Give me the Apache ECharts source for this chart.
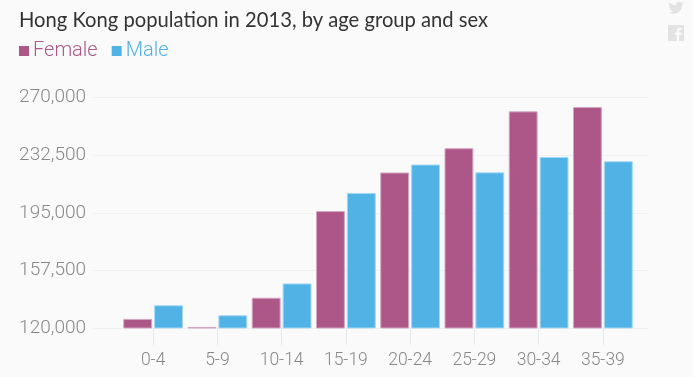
<!DOCTYPE html>
<html><head><meta charset="utf-8">
<style>html,body{margin:0;padding:0;background:#fafafa}#c{width:693px;height:377px}</style>
<script src="https://cdn.jsdelivr.net/npm/echarts@6/dist/echarts.min.js"></script>
</head><body><div id="c"></div>
<script>
const categories = ['0-4','5-9','10-14','15-19','20-24','25-29','30-34','35-39'];
const female = [125900,120700,139700,196100,221200,237000,261000,263800];
const male = [134800,128300,149000,207900,226400,221300,231300,228500];
const yTicks = [120000,157500,195000,232500,270000];
const FONT = 'Roboto';
echarts.graphic.registerShape('twitterIcon', echarts.graphic.extendPath('M23 4.6c-.8.4-1.7.6-2.6.7.9-.6 1.6-1.4 2-2.5-.9.5-1.9.9-2.9 1.1C18.7 3 17.5 2.4 16.2 2.4c-2.5 0-4.6 2-4.6 4.6 0 .4 0 .7.1 1C7.9 7.8 4.5 6 2.2 3.2c-.4.7-.6 1.5-.6 2.3 0 1.6.8 3 2 3.8-.8 0-1.5-.2-2.1-.6v.1c0 2.2 1.6 4.1 3.7 4.5-.4.1-.8.2-1.2.2-.3 0-.6 0-.9-.1.6 1.8 2.3 3.2 4.3 3.2-1.6 1.2-3.6 2-5.7 2-.4 0-.7 0-1.1-.1 2 1.3 4.5 2.1 7.1 2.1 8.5 0 13.1-7 13.1-13.1v-.6c.9-.7 1.7-1.5 2.3-2.3z',{}));
echarts.graphic.registerShape('facebookIcon', echarts.graphic.extendPath('M0 0H16V16H11.2V10H13.2L13.5 7.6H11.2V6.2C11.2 5.5 11.4 5 12.4 5H13.6V2.9C13.4 2.9 12.7 2.8 11.9 2.8 10.1 2.8 8.8 3.9 8.8 5.9V7.6H6.8V10H8.8V16H0Z',{}));
const chart = echarts.init(document.getElementById('c'), null, {renderer:'canvas'});
const yBase = {type:'value',min:120000,max:270000};
chart.setOption({
  animation:false,
  backgroundColor:'#fafafa',
  title:{text:'Hong Kong population in 2013, by age group and sex',left:19,top:10,padding:0,
    textStyle:{fontFamily:'Lato',fontSize:20.2,fontWeight:'normal',color:'#333'}},
  legend:{left:19,top:41,padding:0,itemWidth:10,itemHeight:10,itemGap:14,icon:'rect',
    itemStyle:{borderWidth:0},
    textStyle:{fontFamily:FONT,fontWeight:300,fontSize:20,padding:[0,0,0,-1]},
    data:[{name:'Female',textStyle:{color:'#ad5788'}},{name:'Male',textStyle:{color:'#51b2e5'}}]},
  grid:[
    {left:93,right:44,top:97.5,height:230.5},
    {left:121,right:58,top:97.5,height:230.5}
  ],
  xAxis:[
    {type:'category',gridIndex:0,data:categories,show:false},
    {type:'category',gridIndex:1,data:categories,
     axisLine:{show:false},
     axisTick:{show:true,alignWithLabel:true,length:17,lineStyle:{color:'#e9e9e9'}},
     axisLabel:{fontFamily:FONT,fontWeight:300,fontSize:17.5,color:'#888',margin:24,interval:0}}
  ],
  yAxis:[
    {...yBase,gridIndex:0,
     axisLine:{show:false},
     axisTick:{show:false,customValues:yTicks},
     axisLabel:{customValues:yTicks,fontFamily:FONT,fontWeight:300,fontSize:19,color:'#888',margin:7,padding:[2,0,0,0]},
     splitLine:{show:true,lineStyle:{color:'#f0f0f0',width:1}}},
    {...yBase,gridIndex:1,show:false,splitLine:{show:false}}
  ],
  series:[
    {name:'Female',type:'bar',xAxisIndex:1,yAxisIndex:1,data:female,barGap:'7%',barCategoryGap:'7%',
     itemStyle:{color:'#ad5788',borderColor:'#d3a5c0',borderWidth:1}},
    {name:'Male',type:'bar',xAxisIndex:1,yAxisIndex:1,data:male,
     itemStyle:{color:'#51b2e5',borderColor:'#a5d8f2',borderWidth:1}}
  ],
  graphic:[
    {type:'twitterIcon',silent:true,x:668,y:0,scaleX:0.68,scaleY:0.68,style:{fill:'#e3e3e3'}},
    {type:'facebookIcon',silent:true,x:668,y:25,style:{fill:'#e3e3e3'}}
  ]
});
</script></body></html>
